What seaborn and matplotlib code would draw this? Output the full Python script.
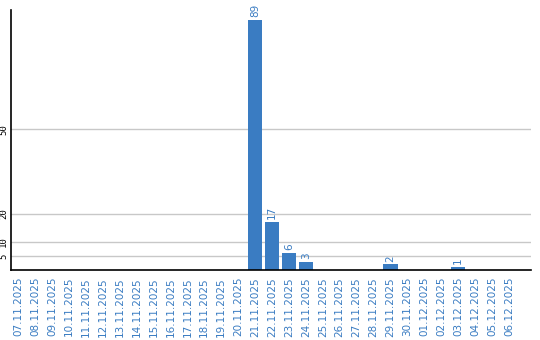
import matplotlib
matplotlib.use("Agg")
import matplotlib.pyplot as plt
import seaborn as sns
import pandas as pd

dates = ["07.11.2025", "08.11.2025", "09.11.2025", "10.11.2025", "11.11.2025",
         "12.11.2025", "13.11.2025", "14.11.2025", "15.11.2025", "16.11.2025",
         "17.11.2025", "18.11.2025", "19.11.2025", "20.11.2025", "21.11.2025",
         "22.11.2025", "23.11.2025", "24.11.2025", "25.11.2025", "26.11.2025",
         "27.11.2025", "28.11.2025", "29.11.2025", "30.11.2025", "01.12.2025",
         "02.12.2025", "03.12.2025", "04.12.2025", "05.12.2025", "06.12.2025"]
counts = [0, 0, 0, 0, 0, 0, 0, 0, 0, 0, 0, 0, 0, 0, 89,
          17, 6, 3, 0, 0, 0, 0, 2, 0, 0, 0, 1, 0, 0, 0]
y_ticks = [5, 10, 20, 50]

bar_color = "#3a7cc2"
label_color = "#3a7cc2"

sns.set_style("white")
plt.rcParams["font.family"] = ["DejaVu Sans"]

fig = plt.figure(figsize=(5.4, 3.4), dpi=100)
ax = fig.add_axes([11 / 540, 1 - 270 / 340, 520 / 540, 260 / 340])

df = pd.DataFrame({"date": dates, "count": counts})
sns.barplot(data=df, x="date", y="count", color=bar_color, saturation=1,
            width=0.83, ax=ax, zorder=3, linewidth=0, edgecolor="none")

ax.bar_label(ax.containers[0], labels=[str(v) if v else "" for v in counts],
             rotation=90, padding=2, color=label_color, fontsize=7.5)

ax.set_xlim(-0.42, len(dates) - 1 + 1.3)
ax.set_ylim(0, 92.5)
ax.set_yticks(y_ticks)
ax.set_yticklabels([str(t) for t in y_ticks], rotation=90, va="center",
                   fontsize=6.5, family="DejaVu Sans Mono")
ax.tick_params(axis="y", length=0, pad=2, labelcolor="black")
ax.tick_params(axis="x", length=0, pad=5, labelrotation=90, labelsize=7.5,
               labelcolor=label_color)
ax.grid(axis="y", color="#c8c8c8", linewidth=1, zorder=0)
ax.set_axisbelow(True)
ax.set_xlabel("")
ax.set_ylabel("")

for side in ["top", "right"]:
    ax.spines[side].set_visible(False)
for side in ["left", "bottom"]:
    ax.spines[side].set_color("black")
    ax.spines[side].set_linewidth(1.2)
    ax.spines[side].set_zorder(5)

fig.savefig("out.png", dpi=100)
